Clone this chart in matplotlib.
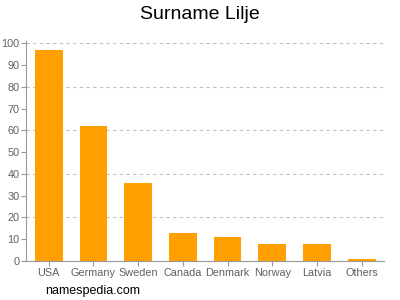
import matplotlib.pyplot as plt
import numpy as np

plt.rcParams['font.family'] = ['Liberation Sans', 'DejaVu Sans']

countries = ["USA", "Germany", "Sweden", "Canada", "Denmark", "Norway", "Latvia", "Others"]
counts = [97, 62, 36, 13, 11, 8, 8, 1]
yticks = list(range(0, 101, 10))
gridlines = [20, 40, 60, 80, 100]

fig = plt.figure(figsize=(4, 3), dpi=100)
ax = fig.add_axes([0.066, 0.13, 0.894, 0.733])

x = np.arange(len(countries))
ax.bar(x, counts, width=0.62, color="#ff9f00", zorder=2)

for g in gridlines:
    ax.axhline(g, color="#c0c0c0", lw=0.8, ls=(0, (3, 3)), zorder=1)

ax.set_xlim(-0.5, len(countries) - 0.5)
ax.set_ylim(0, 101)
ax.set_xticks(x)
ax.set_xticklabels(countries)
ax.set_yticks(yticks)

for s in ["top", "right"]:
    ax.spines[s].set_visible(False)
for s in ["left", "bottom"]:
    ax.spines[s].set_color("#999999")
    ax.spines[s].set_linewidth(0.8)
ax.tick_params(axis="both", colors="#999999", labelcolor="#606060", labelsize=7.8,
               length=3.5, width=0.8, pad=1.5)

fig.text(0.5, 0.952, "Surname Lilje", ha="center", va="center", fontsize=14)
fig.text(0.112, 0.03, "namespedia.com", ha="left", va="center", fontsize=9)

fig.savefig("out.png", dpi=100)
